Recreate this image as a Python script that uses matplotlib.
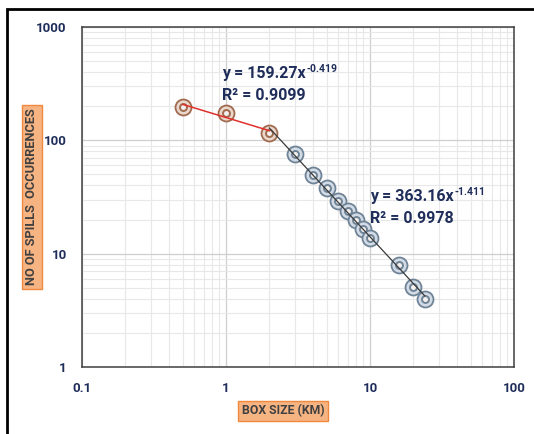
import numpy as np
import matplotlib
matplotlib.use("Agg")
import matplotlib.pyplot as plt
from matplotlib.patches import Rectangle
from matplotlib.ticker import LogLocator, FixedLocator, NullFormatter
from matplotlib.transforms import offset_copy

plt.rcParams['font.family'] = ['Liberation Sans Narrow', 'Roboto', 'DejaVu Sans']

# ----- data -----
small_x = [0.5, 1, 2]
small_y = [198, 175, 116]

large_x = [3, 4, 5, 6, 7, 8, 9, 10, 16, 20, 24]
large_y = [76, 49.5, 38.3, 29.4, 23.8, 19.8, 16.4, 13.7, 8, 5.1, 4]

eq_small = ("y = 159.27x", "-0.419")
r2_small = "R² = 0.9099"
eq_large = ("y = 363.16x", "-1.411")
r2_large = "R² = 0.9978"

x_ticks = [0.1, 1, 10, 100]
x_labels = ["0.1", "1", "10", "100"]
y_ticks = [1, 10, 100, 1000]
y_labels = ["1", "10", "100", "1000"]

navy = '#1f2d5a'
red_edge = '#a06a4e'
red_face = '#ead8cc'
blue_edge = '#6f8397'
blue_face = '#d3dce6'

fig = plt.figure(figsize=(5.34, 4.34), dpi=100)
ax = fig.add_axes([82/534, 1-367/434, (514-82)/534, (367-27)/434])
ax.set_xscale('log')
ax.set_yscale('log')
ax.set_xlim(0.1, 100)
ax.set_ylim(1, 1000)

# grid
ax.xaxis.set_minor_locator(LogLocator(base=10, subs=np.arange(2, 10)))
ax.yaxis.set_minor_locator(LogLocator(base=10, subs=np.arange(2, 10)))
ax.xaxis.set_minor_formatter(NullFormatter())
ax.yaxis.set_minor_formatter(NullFormatter())
ax.grid(which='major', color='#cfcfcf', lw=0.9)
ax.grid(which='minor', color='#e8e8e8', lw=0.8)
ax.set_axisbelow(True)

# power-law trend lines fitted in log space
def power_fit(xs, ys):
    k, b = np.polyfit(np.log10(xs), np.log10(ys), 1)
    return k, b

# ring markers
for xs, ys, ec, fc in [(small_x, small_y, red_edge, red_face),
                       (large_x, large_y, blue_edge, blue_face)]:
    ax.plot(xs, ys, 'o', ms=11.5, mfc=fc, mec=ec, mew=1.3, ls='none', zorder=3)
    ax.plot(xs, ys, 'o', ms=5, mfc='#f4f0ee', mec=ec, mew=1.4, ls='none', zorder=4)

k1, b1 = power_fit(small_x, small_y)
xx1 = np.array([min(small_x), max(small_x)])
ax.plot(xx1, 10**b1 * xx1**k1, color='#e0302a', lw=1.1, zorder=5)

fit_x = [small_x[-1]] + large_x
fit_y = [small_y[-1]] + large_y
k2, b2 = power_fit(fit_x, fit_y)
xx2 = np.array([min(fit_x), max(fit_x)])
ax.plot(xx2, 10**b2 * xx2**k2, color='#3a3a3a', lw=0.9, zorder=5)

# ticks
ax.xaxis.set_major_locator(FixedLocator(x_ticks))
ax.yaxis.set_major_locator(FixedLocator(y_ticks))
ax.set_xticklabels(x_labels)
ax.set_yticklabels(y_labels)
ax.tick_params(which='both', length=0)
ax.tick_params(axis='x', pad=11, labelsize=9.5, labelcolor=navy)
ax.tick_params(axis='y', pad=11, labelsize=9.5, labelcolor=navy)
for lab in ax.get_xticklabels() + ax.get_yticklabels():
    lab.set_fontweight('bold')

for s in ax.spines.values():
    s.set_color('#404040')
    s.set_linewidth(1.1)

# equations with hand-placed superscripts
fig.canvas.draw()
renderer = fig.canvas.get_renderer()
for (base, sup), r2, pos, pos2 in [(eq_small, r2_small, (0.94, 390), (0.94, 250)),
                                   (eq_large, r2_large, (10, 32), (10, 20.5))]:
    t = ax.text(*pos, base, fontsize=11.5, color=navy, fontweight='bold',
                ha='left', va='center')
    bb = t.get_window_extent(renderer)
    tr = offset_copy(ax.transData, fig=fig, x=bb.width + 1, y=4, units='dots')
    ax.text(*pos, sup, fontsize=7.5, color=navy, fontweight='bold',
            ha='left', va='center', transform=tr)
    ax.text(*pos2, r2, fontsize=11.5, color=navy, fontweight='bold',
            ha='left', va='center')

# axis titles in orange boxes
box = dict(boxstyle='square,pad=0.3', fc='#f7b483', ec='#f0883e', lw=1)
fig.text(32/534, 1-197/434, "NO OF SPILLS  OCCURRENCES", rotation=90,
         ha='center', va='center', fontsize=9.2, fontweight='bold',
         color='#404040', bbox=box)
fig.text(283/534, 1-411/434, "BOX SIZE (KM)", ha='center', va='center',
         fontsize=8.8, fontweight='bold', color='#404040', bbox=box)

# outer frame
fig.patches.append(Rectangle((7/534, -0.05), 1.1, 1-9/434+0.05,
                             transform=fig.transFigure, fill=False,
                             ec='black', lw=2, zorder=10))

fig.savefig('out.png', dpi=100)
